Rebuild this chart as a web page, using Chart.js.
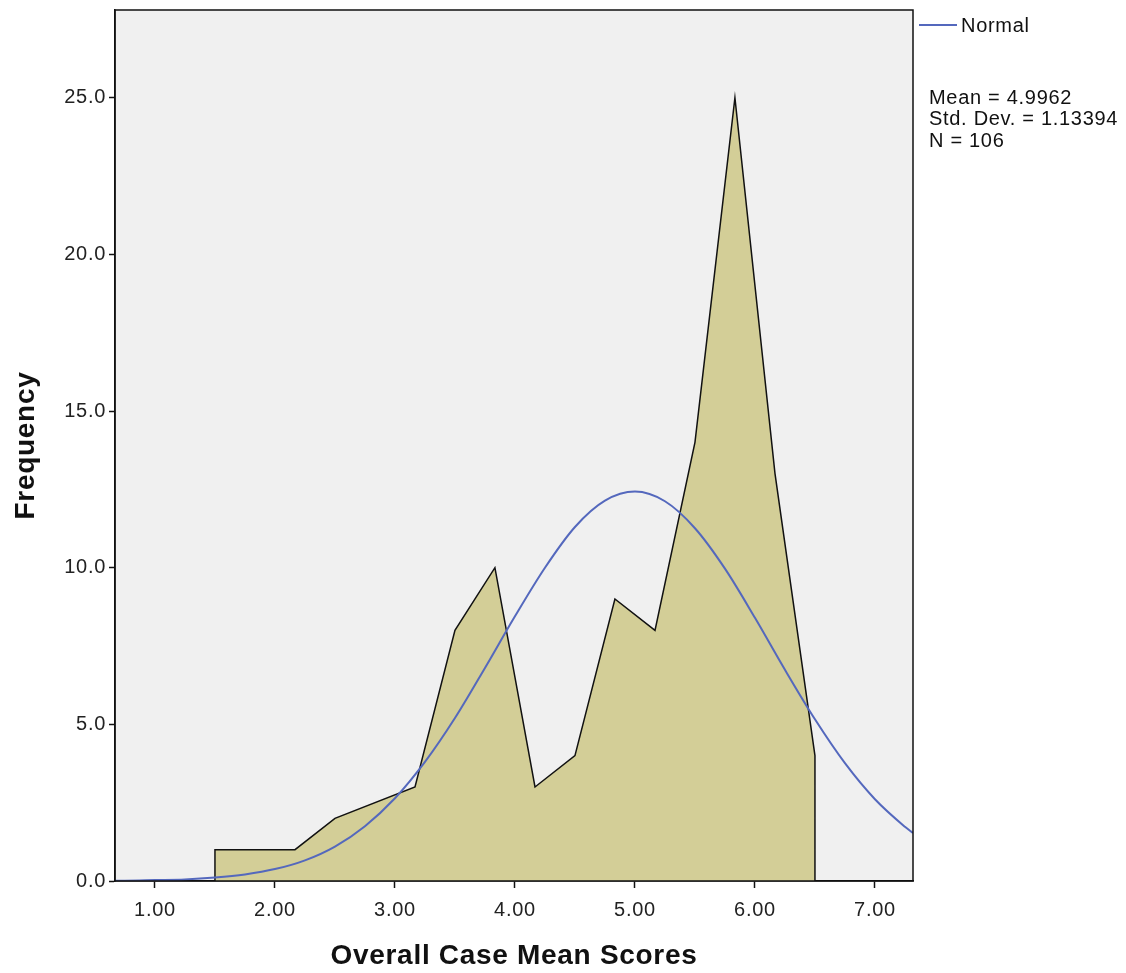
<!DOCTYPE html>
<html>
<head>
<meta charset="utf-8">
<script src="https://cdn.jsdelivr.net/npm/chart.js@4/dist/chart.umd.min.js"></script>
<style>
  body { margin: 0; background: #fff; }
  #wrap { width: 1126px; height: 973px; }
</style>
</head>
<body>
<div id="wrap"><canvas id="histo" width="1126" height="973"></canvas></div>
<script>
// frequency polygon (bin midpoints, frequency)
var polyX = [1.5, 1.5, 2.167, 2.5, 3.167, 3.5, 3.833, 4.167, 4.5, 4.833, 5.167, 5.5, 5.833, 6.167, 6.5, 6.5];
var polyY = [0, 1, 1, 2, 3, 8, 10, 3, 4, 9, 8, 14, 25, 13, 4, 0];

// normal curve
var normX = [0.667, 0.75, 1, 1.25, 1.5, 1.75, 2, 2.25, 2.5, 2.75, 3, 3.25, 3.5, 3.75, 4, 4.25, 4.5, 4.75, 5, 5.25, 5.5, 5.75, 6, 6.25, 6.5, 6.75, 7, 7.25, 7.317];
var normY = [0.01, 0.011, 0.03, 0.05, 0.11, 0.21, 0.38, 0.66, 1.1, 1.75, 2.64, 3.8, 5.2, 6.8, 8.45, 10.0, 11.3, 12.14, 12.43, 12.12, 11.26, 9.97, 8.4, 6.74, 5.16, 3.76, 2.61, 1.73, 1.53];

var xTicks = [1, 2, 3, 4, 5, 6, 7];
var yTicks = [0, 5, 10, 15, 20, 25];

var statLines = ['Mean = 4.9962', 'Std. Dev. = 1.13394', 'N = 106'];

var FONT = "'Liberation Sans', Arial, sans-serif";

function pts(xs, ys) {
  return xs.map(function (x, i) { return { x: x, y: ys[i] }; });
}

/* plot background + frame, legend and stats */
var frame = {
  id: 'frame',
  beforeDraw: function (chart) {
    var a = chart.chartArea, c = chart.ctx;
    c.letterSpacing = '0.7px';
    c.save();
    c.fillStyle = '#f0f0f0';
    c.fillRect(a.left, a.top, a.right - a.left, a.bottom - a.top);
    c.restore();
  },
  afterDraw: function (chart) {
    var a = chart.chartArea, c = chart.ctx;
    c.save();
    c.strokeStyle = '#111';
    c.lineWidth = 1.5;
    c.strokeRect(a.left, a.top, a.right - a.left, a.bottom - a.top);

    // legend
    c.strokeStyle = '#5468bd';
    c.lineWidth = 2;
    c.beginPath();
    c.moveTo(919, 25);
    c.lineTo(957, 25);
    c.stroke();
    c.fillStyle = '#111';
    c.font = '20px ' + FONT;
    c.textBaseline = 'middle';
    c.fillText('Normal', 961, 26);

    statLines.forEach(function (t, i) {
      c.fillText(t, 929, 98 + i * 21.5);
    });
    c.restore();
  }
};

var ctx = document.getElementById('histo');
var histo = new Chart(ctx, {
  type: 'line',
  data: {
    datasets: [{
      label: 'Normal',
      data: pts(normX, normY),
      borderColor: '#5468bd',
      borderWidth: 2,
      pointRadius: 0,
      fill: false,
      cubicInterpolationMode: 'monotone'
    }, {
      label: 'Frequency',
      data: pts(polyX, polyY),
      borderColor: '#111',
      borderWidth: 1.5,
      backgroundColor: '#d3ce97',
      pointRadius: 0,
      tension: 0,
      fill: 'origin'
    }]
  },
  options: {
    responsive: false,
    animation: false,
    layout: { padding: { top: 10, right: 213, left: 0, bottom: 0 } },
    plugins: {
      legend: { display: false },
      tooltip: { enabled: false }
    },
    scales: {
      x: {
        type: 'linear',
        min: 0.667,
        max: 7.317,
        afterBuildTicks: function (s) { s.ticks = xTicks.map(function (v) { return { value: v }; }); },
        afterFit: function (s) { s.height = 92; },
        grid: { drawOnChartArea: false, tickLength: 7, tickColor: '#111', tickWidth: 1.5 },
        border: { color: '#111', width: 1.5 },
        ticks: {
          padding: 10,
          color: '#222',
          font: { family: FONT, size: 20 },
          maxRotation: 0,
          callback: function (v) { return v.toFixed(2); }
        },
        title: {
          display: true,
          text: 'Overall Case Mean Scores',
          color: '#111',
          font: { family: FONT, size: 28, weight: 'bold' },
          padding: { top: 0, bottom: 0 }
        }
      },
      y: {
        min: 0,
        max: 27.8,
        afterBuildTicks: function (s) { s.ticks = yTicks.map(function (v) { return { value: v }; }); },
        afterFit: function (s) { s.width = 115; s.paddingTop = 0; s.paddingBottom = 0; },
        grid: { drawOnChartArea: false, tickLength: 6, tickColor: '#111', tickWidth: 1.5 },
        border: { color: '#111', width: 1.5 },
        ticks: {
          padding: 3,
          color: '#222',
          font: { family: FONT, size: 20 },
          callback: function (v) { return v.toFixed(1); }
        },
        title: {
          display: true,
          text: 'Frequency',
          color: '#111',
          font: { family: FONT, size: 28, weight: 'bold' },
          padding: { top: 9, bottom: 8 }
        }
      }
    }
  },
  plugins: [frame]
});
</script>
</body>
</html>
